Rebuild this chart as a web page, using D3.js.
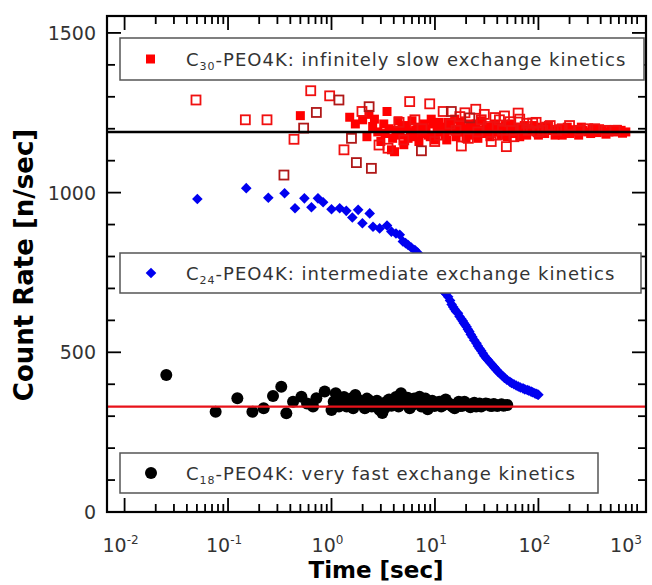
<!DOCTYPE html>
<meta charset="utf-8">
<style>
body { margin: 0; background: #fff; }
svg { display: block; background: #fff; font-family: 'DejaVu Sans', sans-serif; }
.tick-label { fill: #333; font-size: 19px; }
.axis-title { fill: #000; font-size: 26px; font-weight: bold; }
.legend-box { fill: #fff; stroke: #555; stroke-width: 1.5px; }
.legend-text { fill: #333; font-size: 18px; letter-spacing: 1px; }
</style>
<svg width="652" height="585"></svg>
<script src="https://d3js.org/d3.v7.min.js"></script>
<script>
// C30 filled squares [time, rate]
var c30Filled = [
  [0.5,1241],[1.5,1236],[1.7,1215],[2.0,1228],[2.2,1175],[2.3,1245],[2.5,1207],[2.6,1230],
  [2.8,1190],[3.0,1160],[3.2,1215],[3.3,1185],[3.44,1254],[3.6,1200],[3.8,1134],[3.9,1170],
  [4.07,1128],[4.2,1195],[4.4,1225],[4.6,1180],[4.8,1205],[5,1150],[5.3,1210],[5.5,1170],
  [5.8,1190],[6.0,1225],[6.2,1175],[6.5,1195],[6.8,1205],[7.0,1160],[7.5,1185],[7.8,1215],
  [8.2,1200],[8.6,1180],[9,1175],[9.2,1230],[9.5,1215],[10,1165],[10.5,1190],[11,1220],
  [11.5,1205],[12,1195],[12.5,1180],[13,1165],[13.5,1220],[14,1205],[15,1195],[15.5,1230],
  [16,1175],[16.5,1190],[17.5,1210],[18,1220],[19,1190],[20,1170],[21,1200],[22,1215],
  [23,1180],[24,1195],[25,1215],[26,1170],[27,1195],[28,1225],[30,1185],[31,1200],[33,1205],
  [34,1175],[36,1190],[38,1215],[40,1200],[42,1190],[44,1180],[46,1205],[48,1210],[50,1175],
  [53,1195],[55,1215],[58,1185],[60,1190],[63,1205],[66,1175],[70,1190],[73,1210],[77,1180],
  [80,1195],[85,1200],[90,1210],[95,1190],[100,1180],[105,1205],[110,1200],[115,1185],
  [125,1210],[130,1195],[140,1195],[145,1180],[160,1200],[170,1180],[180,1190],[190,1205],
  [200,1185],[220,1197],[230,1190],[245,1180],[260,1205],[270,1195],[300,1190],[320,1185],
  [330,1200],[370,1188],[390,1200],[410,1195],[450,1183],[480,1190],[500,1197],[550,1190],
  [580,1198],[600,1192],[630,1195],[650,1186],[700,1190]
];
// C30 open squares, bright and dark outlines
var c30Open = [
  [0.049,1290],[0.147,1228],[0.238,1228],[0.63,1319],[0.96,1303],[0.434,1167],[1.32,1134],
  [1.97,1254],[2.88,1149],[3.52,1139],[4.5,1220],[5.0,1165],[5.7,1285],[6.4,1228],[7.5,1200],
  [8.9,1278],[9.95,1160],[11,1180],[12,1254],[14,1215],[16,1195],[17.4,1238],[18,1146],
  [19.5,1250],[21,1170],[24.8,1261],[26,1190],[28,1228],[30,1245],[32.7,1207],[35,1160],
  [38,1235],[40,1180],[42,1228],[45,1195],[47,1240],[49,1144],[53,1222],[55,1195],[58,1175],
  [63.7,1249],[66,1230],[70,1200],[77,1217],[80,1195],[88,1218],[95,1220],[100,1190],
  [110,1195],[120,1205],[130,1210],[150,1195],[170,1200],[200,1210],[250,1195],[300,1200],
  [350,1200],[450,1195],[550,1195]
];
var c30OpenDark = [
  [0.347,1055],[0.538,1202],[0.714,1251],[1.18,1290],[1.56,1170],[1.74,1094],[2.31,1269],
  [2.43,1076],[7.4,1131],[14.4,1254],[21.7,1234]
];
// C24 diamonds
var c24 = [
  [0.0505,980],[0.150,1014],[0.245,984],[0.352,998],[0.444,951],[0.547,982],[0.64,954],
  [0.74,982],[0.83,970],[1.0,948],[1.2,951],[1.39,943],[1.59,922],[1.81,946],[1.99,904],
  [2.34,935],[2.52,893],[2.92,888],[3.44,897],[3.79,878],[4.2,872],[4.57,868],[4.9,847],
  [5.2,842],[5.5,836],[5.9,828],[6.4,820],[6.8,812],[7.2,800],[7.6,792],[8,780],[8.5,768],
  [9,755],[9.5,742],[10,730],[10.5,720],[11,710],[11.5,700],[12,692],[12.7,684],[13.4,674],
  [14,662],[14.5,650],[15,642],[15.5,635],[16,628],[16.7,622],[17.3,612],[18,604],[18.6,598],
  [19,592],[19.6,586],[20.2,580],[20.8,572],[21.5,565],[22.2,556],[23,548],[24,538],[25.2,528],
  [26,520],[27,512],[28,505],[29,497],[30,489],[31.5,481],[32.7,475],[34,468],[35.5,462],
  [37,455],[38,450],[39.4,445],[41,438],[43,432],[45,426],[47,420],[49.5,414],[52.9,408],
  [55,404],[58,400],[61,396],[64,393],[67,390],[71,387],[74,384],[78,382],[81,380],[85,377],
  [88,375],[92,372],[95,370],[98,368],[100,367]
];
// C18 circles
var c18 = [
  [0.0253,429],[0.0759,314],[0.123,356],[0.172,314],[0.221,325],[0.272,363],[0.327,392],
  [0.366,309],[0.425,345],[0.512,361],[0.58,340],[0.663,330],[0.714,356],[0.86,377],[1.0,319],
  [1.05,345],[1.1,372],[1.18,330],[1.25,345],[1.32,360],[1.4,330],[1.47,340],[1.55,355],
  [1.62,325],[1.7,366],[1.8,352],[1.9,340],[2.0,335],[2.1,325],[2.2,355],[2.3,350],[2.45,330],
  [2.6,338],[2.75,348],[2.9,320],[3.0,338],[3.1,310],[3.25,325],[3.4,345],[3.6,352],[3.8,333],
  [4.0,340],[4.2,360],[4.45,330],[4.7,372],[4.95,350],[5.2,340],[5.45,358],[5.7,325],[6.0,335],
  [6.3,355],[6.7,345],[7.1,361],[7.4,330],[7.8,335],[8.1,355],[8.5,322],[8.9,340],[9.4,348],
  [9.9,332],[10.5,340],[11,345],[11.5,330],[12.1,335],[12.7,352],[13.3,342],[14,337],
  [14.7,330],[15.5,325],[16.2,338],[17,345],[17.7,332],[18.5,333],[19.3,345],[20,340],
  [21,335],[22,328],[23,338],[24,342],[25,330],[26,335],[27,340],[28,330],[29.5,335],[31,340],
  [32.5,338],[34,333],[35.5,332],[37,338],[38.5,336],[40,332],[42,334],[44,337],[46,333],
  [48,334],[50,335]
];
var slowLevel = 1190, fastLevel = 330;
var xMajor = [-2, -1, 0, 1, 2, 3];
var yMajor = [0, 500, 1000, 1500];

var svg = d3.select("svg"),
    pLeft = 107, pRight = 646, pTop = 16, pBottom = 512;

var x = d3.scaleLog().domain([Math.pow(10, -2.17), Math.pow(10, 3.04)]).range([pLeft, pRight]);
var y = d3.scaleLinear().domain([0, 1553]).range([pBottom, pTop]);

var xMinor = [];
xMajor.slice(0, -1).forEach(function(e) {
  for (var k = 2; k <= 9; k++) xMinor.push(k * Math.pow(10, e));
});
var yMinor = d3.range(100, 1600, 100).filter(function(v) { return v % 500 != 0; });

// markers
var plot = svg.append("g");
plot.selectAll(".c30f").data(c30Filled).enter().append("rect")
    .attr("x", function(d) { return x(d[0]) - 4.5; })
    .attr("y", function(d) { return y(d[1]) - 4.5; })
    .attr("width", 9).attr("height", 9).attr("fill", "#f00");
plot.selectAll(".c30o").data(c30Open).enter().append("rect")
    .attr("x", function(d) { return x(d[0]) - 4.5; })
    .attr("y", function(d) { return y(d[1]) - 4.5; })
    .attr("width", 9).attr("height", 9).attr("fill", "none")
    .attr("stroke", "#f01010").attr("stroke-width", 1.8);
plot.selectAll(".c30d").data(c30OpenDark).enter().append("rect")
    .attr("x", function(d) { return x(d[0]) - 4.5; })
    .attr("y", function(d) { return y(d[1]) - 4.5; })
    .attr("width", 9).attr("height", 9).attr("fill", "none")
    .attr("stroke", "#b01818").attr("stroke-width", 1.8);
var diamond = d3.symbol().type(d3.symbolDiamond2).size(72);
plot.selectAll(".c24").data(c24).enter().append("path")
    .attr("d", diamond)
    .attr("transform", function(d) { return "translate(" + x(d[0]) + "," + y(d[1]) + ")"; })
    .attr("fill", "#0000f0");
plot.selectAll(".c18").data(c18).enter().append("circle")
    .attr("cx", function(d) { return x(d[0]); })
    .attr("cy", function(d) { return y(d[1]); })
    .attr("r", 6).attr("fill", "#000");

// reference levels
svg.append("line").attr("x1", pLeft).attr("x2", pRight)
    .attr("y1", y(slowLevel)).attr("y2", y(slowLevel))
    .attr("stroke", "#000").attr("stroke-width", 2.5);
svg.append("line").attr("x1", pLeft).attr("x2", pRight)
    .attr("y1", y(fastLevel)).attr("y2", y(fastLevel))
    .attr("stroke", "#e8121a").attr("stroke-width", 2.2);

// ticks (inward, on all four sides)
function ticksX(vals, len) {
  vals.forEach(function(v) {
    svg.append("line").attr("x1", x(v)).attr("x2", x(v)).attr("y1", pBottom).attr("y2", pBottom - len)
      .attr("stroke", "#000").attr("stroke-width", 1.8);
    svg.append("line").attr("x1", x(v)).attr("x2", x(v)).attr("y1", pTop).attr("y2", pTop + len)
      .attr("stroke", "#000").attr("stroke-width", 1.8);
  });
}
function ticksY(vals, len) {
  vals.forEach(function(v) {
    svg.append("line").attr("x1", pLeft).attr("x2", pLeft + len).attr("y1", y(v)).attr("y2", y(v))
      .attr("stroke", "#000").attr("stroke-width", 1.8);
    svg.append("line").attr("x1", pRight).attr("x2", pRight - len).attr("y1", y(v)).attr("y2", y(v))
      .attr("stroke", "#000").attr("stroke-width", 1.8);
  });
}
ticksX(xMajor.slice(0, -1).map(function(e) { return Math.pow(10, e); }), 14);
ticksX(xMinor, 8);
ticksY(yMajor, 14);
ticksY(yMinor, 8);

// legend boxes
var legends = [
  {y: 38, w: 524, h: 42, sub: "30", text: "-PEO4K: infinitely slow exchange kinetics", sym: "sq"},
  {y: 253, w: 521, h: 40, sub: "24", text: "-PEO4K: intermediate exchange kinetics", sym: "dia"},
  {y: 453, w: 478, h: 40, sub: "18", text: "-PEO4K: very fast exchange kinetics", sym: "dot"}
];
legends.forEach(function(l) {
  var g = svg.append("g").attr("transform", "translate(120," + l.y + ")");
  g.append("rect").attr("class", "legend-box").attr("width", l.w).attr("height", l.h);
  var cy = l.h / 2;
  if (l.sym == "sq") g.append("rect").attr("x", 26).attr("y", cy - 4.5).attr("width", 9).attr("height", 9).attr("fill", "#f00");
  if (l.sym == "dia") g.append("path").attr("d", diamond).attr("transform", "translate(31," + cy + ")").attr("fill", "#0000f0");
  if (l.sym == "dot") g.append("circle").attr("cx", 31).attr("cy", cy).attr("r", 6).attr("fill", "#000");
  var t = g.append("text").attr("class", "legend-text").attr("x", 66).attr("y", cy + 7);
  t.append("tspan").text("C");
  t.append("tspan").attr("font-size", "11px").attr("dy", 4).text(l.sub);
  t.append("tspan").attr("dy", -4).text(l.text);
});

// frame
svg.append("rect").attr("x", pLeft).attr("y", pTop).attr("width", pRight - pLeft).attr("height", pBottom - pTop)
    .attr("fill", "none").attr("stroke", "#000").attr("stroke-width", 2.2);

// tick labels
yMajor.forEach(function(v) {
  svg.append("text").attr("class", "tick-label").attr("x", 96).attr("y", y(v) + 7)
    .attr("text-anchor", "end").text(v);
});
xMajor.forEach(function(e) {
  var cx = Math.min(x(Math.pow(10, e)) - 4, 626);
  var t = svg.append("text").attr("class", "tick-label").attr("x", cx)
    .attr("y", 552).attr("text-anchor", "middle");
  t.append("tspan").text("10");
  t.append("tspan").attr("font-size", "12px").attr("dy", -8).text(e < 0 ? "-" + (-e) : e);
});

// axis titles
svg.append("text").attr("class", "axis-title").attr("text-anchor", "middle")
    .attr("transform", "translate(33,265) rotate(-90)").text("Count Rate [n/sec]");
svg.append("text").attr("class", "axis-title").attr("text-anchor", "middle")
    .attr("x", 376).attr("y", 578).style("font-size", "23px").text("Time [sec]");
</script>
